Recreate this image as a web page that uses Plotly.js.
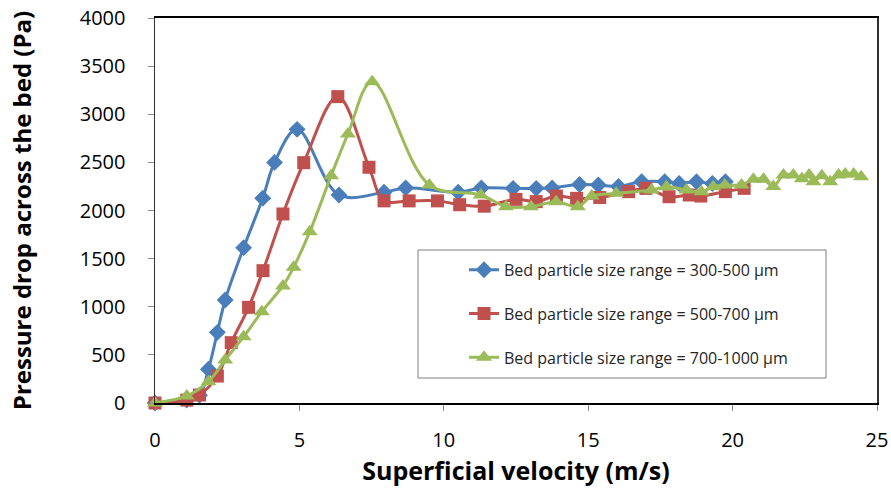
<!DOCTYPE html>
<html>
<head>
<meta charset="utf-8">
<script src="https://cdn.plot.ly/plotly-3.0.1.min.js"></script>
<style>html,body{margin:0;padding:0;background:#fff;}#chart{width:891px;height:494px;}</style>
</head>
<body>
<div id="chart"></div>
<script>
// Superficial velocity (m/s) and pressure drop (Pa) for each bed particle size range
const seriesNames = [
  "Bed particle size range = 300-500 \u00b5m",
  "Bed particle size range = 500-700 \u00b5m",
  "Bed particle size range = 700-1000 \u00b5m"
];

const velocity300 = [0, 1.1, 1.54, 1.85, 2.16, 2.43, 3.07, 3.73, 4.14, 4.92, 6.37, 7.93, 8.68, 10.5, 11.3, 12.4, 13.2, 13.75, 14.7, 15.35, 16.05, 16.85, 17.65, 18.15, 18.75, 19.3, 19.75];
const pressure300 = [0, 30, 80, 350, 734, 1070, 1614, 2127, 2500, 2843, 2161, 2190, 2235, 2190, 2235, 2230, 2230, 2235, 2270, 2265, 2250, 2300, 2300, 2280, 2300, 2280, 2300];

const velocity500 = [0, 1.1, 1.54, 2.16, 2.64, 3.24, 3.74, 4.43, 5.15, 6.33, 7.41, 7.93, 8.8, 9.78, 10.55, 11.4, 12.5, 13.2, 13.9, 14.6, 15.4, 16.4, 17.0, 17.8, 18.5, 18.9, 19.75, 20.4];
const pressure500 = [0, 30, 83, 280, 627, 994, 1375, 1964, 2497, 3183, 2449, 2100, 2100, 2100, 2060, 2045, 2116, 2092, 2150, 2126, 2135, 2196, 2230, 2143, 2161, 2150, 2196, 2230];

const velocity700 = [0, 1.1, 1.85, 2.43, 3.07, 3.7, 4.43, 4.8, 5.36, 6.1, 6.68, 7.52, 9.5, 11.28, 12.15, 13.02, 13.89, 14.64, 15.12, 15.97, 17.19, 17.71, 18.4, 18.92, 19.33, 19.73, 20.31, 20.72, 21.07, 21.41, 21.76, 22.1, 22.4, 22.65, 22.8, 23.09, 23.38, 23.67, 23.9, 24.19, 24.45];
const pressure700 = [0, 73, 222, 447, 689, 949, 1216, 1410, 1780, 2362, 2795, 3338, 2265, 2161, 2040, 2040, 2092, 2040, 2150, 2178, 2213, 2247, 2213, 2196, 2247, 2265, 2265, 2324, 2324, 2250, 2370, 2370, 2330, 2370, 2300, 2360, 2300, 2370, 2380, 2380, 2350];

const xTicks = [0, 5, 10, 15, 20, 25];
const yTicks = [0, 500, 1000, 1500, 2000, 2500, 3000, 3500, 4000];

const colors = ["#4A7EBB", "#C0504D", "#9BBB59"];
const symbols = ["diamond", "square", "triangle-up"];
const sizes = [13, 13, 14];
const xs = [velocity300, velocity500, velocity700];
const ys = [pressure300, pressure500, pressure700];

const traces = seriesNames.map((name, i) => ({
  type: "scatter",
  mode: "lines+markers",
  name: name,
  legendgroup: "g" + i,
  x: xs[i],
  y: ys[i],
  line: {color: colors[i], width: 3, shape: "spline", smoothing: 1},
  marker: {color: colors[i], symbol: symbols[i], size: sizes[i]},
  cliponaxis: false
}));

const font = "'Open Sans', sans-serif";

const layout = {
  width: 891,
  height: 494,
  paper_bgcolor: "#ffffff",
  plot_bgcolor: "#ffffff",
  margin: {l: 155, r: 14, t: 18, b: 91},
  showlegend: true,
  font: {family: font, color: "#000000"},
  xaxis: {
    range: [0, 25],
    tickvals: xTicks,
    ticktext: xTicks.map(String),
    showgrid: false,
    zeroline: false,
    showline: true,
    linecolor: "#000000",
    linewidth: 2,
    mirror: true,
    ticks: "outside",
    ticklen: 6,
    tickcolor: "#8c8c8c",
    tickfont: {family: font, size: 20, color: "#000000"},
    ticklabelstandoff: 12,
    title: {text: "Superficial velocity (m/s)", font: {family: font, size: 25, color: "#000000", weight: "bold"}, standoff: 10},
    automargin: false
  },
  yaxis: {
    range: [0, 4000],
    tickvals: yTicks,
    ticktext: yTicks.map(String),
    showgrid: false,
    zeroline: false,
    showline: true,
    linecolor: "#303030",
    linewidth: 1.5,
    mirror: true,
    ticks: "outside",
    ticklen: 6,
    tickcolor: "#8c8c8c",
    tickfont: {family: font, size: 20, color: "#000000"},
    ticklabelstandoff: 18,
    title: {text: "Pressure drop across the bed (Pa)", font: {family: font, size: 24, color: "#000000", weight: "bold"}, standoff: 41},
    automargin: false
  },
  legend: {
    x: 0.428, y: 0.39,
    xanchor: "left", yanchor: "top",
    bgcolor: "rgba(0,0,0,0)",
    borderwidth: 0,
    traceorder: "grouped",
    tracegroupgap: 20,
    font: {family: font, size: 16, color: "#262626"}
  },
  shapes: [{
    type: "rect", xref: "paper", yref: "paper",
    x0: (418 - 155) / 722, x1: (826 - 155) / 722,
    y0: (403 - 378) / 385, y1: (403 - 250) / 385,
    line: {color: "#7f7f7f", width: 1},
    fillcolor: "rgba(255,255,255,1)",
    layer: "below"
  }]
};

Plotly.newPlot("chart", traces, layout, {displayModeBar: false, staticPlot: true});
</script>
</body>
</html>
